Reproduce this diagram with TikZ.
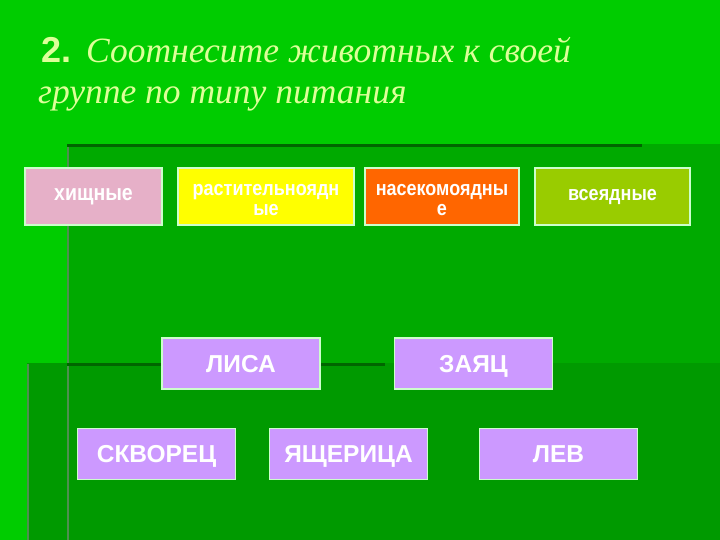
\documentclass[tikz,border=0pt]{standalone}
\usepackage{fontspec}
\setmainfont{Liberation Serif}
\setsansfont{Liberation Sans}
\definecolor{bgA}{HTML}{00CC00}
\definecolor{bgB}{HTML}{00AA00}
\definecolor{bgC}{HTML}{009A00}
\definecolor{lineD}{HTML}{006600}
\definecolor{lineG}{HTML}{4F8F4F}
\definecolor{titleC}{HTML}{DDFF99}
\definecolor{pinkC}{HTML}{E6B0C8}
\definecolor{yellowC}{HTML}{FFFF00}
\definecolor{orangeC}{HTML}{FF6600}
\definecolor{oliveC}{HTML}{99CC00}
\definecolor{purpleC}{HTML}{CC99FF}
\definecolor{borderC}{HTML}{CCFFCC}
\newcommand{\tallA}[1]{\scalebox{1}[1.15]{#1}}
\newcommand{\twolines}[2]{\raisebox{-9pt}[0pt][0pt]{\begin{tabular}{@{}c@{}}\tallA{#1}\\\tallA{#2}\end{tabular}}}
\tikzset{
  catbox/.style={draw=borderC, line width=1.2pt, text=white, align=center,
    font=\sffamily\bfseries\fontsize{18}{20}\selectfont, inner sep=0pt},
  animalbox/.style={draw=borderC, line width=1.2pt, fill=purpleC, text=white,
    font=\sffamily\bfseries\fontsize{24.5}{28}\selectfont, inner sep=0pt,
    text height=17.5pt, text depth=0pt,
    minimum width=158pt, minimum height=51pt}
}
\begin{document}
\begin{tikzpicture}[x=1pt,y=-1pt]
\useasboundingbox (0,0) rectangle (720,540);
\fill[bgA] (0,0) rectangle (720,540);
\fill[bgB] (67,144) rectangle (720,363);
\fill[bgC] (27,363) rectangle (720,540);
\draw[lineG, line width=2pt] (68,144) -- (68,363);
\draw[lineG, line width=2pt] (28,364) -- (28,540);
\draw[lineG, line width=2pt] (68,364) -- (68,540);
\draw[lineD, line width=3pt] (67,146) -- (642,146);
\draw[lineD, line width=3pt] (67,364.5) -- (385,364.5);
% title
\node[anchor=base west, text=titleC, inner sep=0pt] (t1) at (41,63)
  {{\sffamily\bfseries\fontsize{36}{40}\selectfont 2.}\hspace{15pt}{\itshape\fontsize{35.5}{40}\selectfont Соотнесите животных к своей}};
\node[anchor=base west, text=titleC, inner sep=0pt] (t2) at (38,104)
  {\itshape\fontsize{35.5}{40}\selectfont группе по типу питания};
% categories
\node[catbox, fill=pinkC, minimum width=137pt, minimum height=57pt] (c1) at (93.5,196.5) {\fontsize{19.5}{22}\selectfont\tallA{хищные}};
\node[catbox, fill=yellowC, minimum width=176pt, minimum height=57pt] (c2) at (266,196.5) {\twolines{растительноядн}{ые}};
\node[catbox, fill=orangeC, minimum width=154pt, minimum height=57pt] (c3) at (442,196.5) {\twolines{насекомоядны}{е}};
\node[catbox, fill=oliveC, minimum width=155pt, minimum height=57pt] (c4) at (612.5,196.5) {\tallA{всеядные}};
% animals
\node[animalbox] (a1) at (241,363.5) {ЛИСА};
\node[animalbox] (a2) at (473.5,363.5) {ЗАЯЦ};
\node[animalbox] (a3) at (156.5,454) {СКВОРЕЦ};
\node[animalbox] (a4) at (348.5,454) {ЯЩЕРИЦА};
\node[animalbox] (a5) at (558.5,454) {ЛЕВ};
\end{tikzpicture}
\end{document}
